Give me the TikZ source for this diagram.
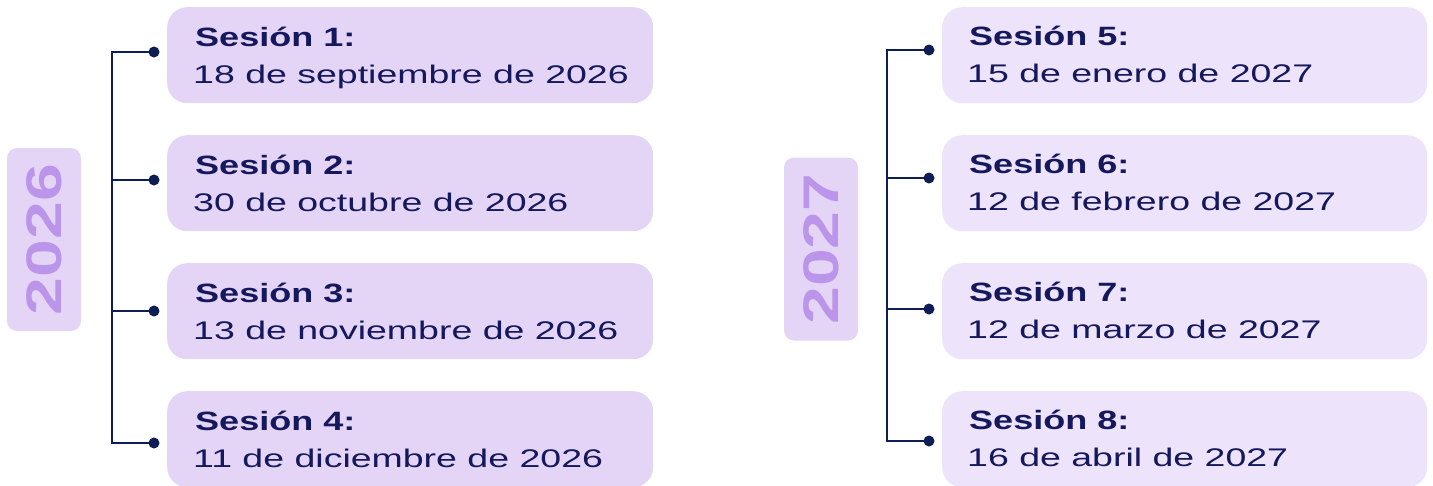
\documentclass[tikz,border=0pt]{standalone}
\usepackage{fontspec}
\setmainfont[FakeStretch=1.36]{Liberation Sans}
\newfontfamily\datefont[FakeStretch=1.47]{Liberation Sans}
\definecolor{boxL}{HTML}{E4D5F6}
\definecolor{boxR}{HTML}{EDE3FA}
\definecolor{yearbg}{HTML}{E4D5F6}
\definecolor{yeartxt}{HTML}{BA95EA}
\definecolor{navy}{HTML}{0E1E55}
\definecolor{ink}{HTML}{15185C}
\tikzset{
  sbox/.style={draw=none, rounded corners=20pt, minimum height=96pt, anchor=north west, inner sep=0pt},
  ybox/.style={fill=yearbg, draw=none, rounded corners=10pt, minimum width=74pt, minimum height=183pt, inner sep=0pt},
  ytext/.style={rotate=90, text=yeartxt, font=\fontsize{50}{50}\selectfont\bfseries, inner sep=0pt},
  title/.style={anchor=base west, inner sep=0pt, text=ink, font=\fontsize{26.5}{30}\selectfont\bfseries},
  date/.style={anchor=base west, inner sep=0pt, text=ink, font=\datefont\fontsize{25.5}{30}\selectfont},
  conn/.style={draw=navy, line width=2.8pt},
  dot/.style={circle, fill=navy, minimum size=11pt, inner sep=0pt}
}
\begin{document}
\begin{tikzpicture}[x=1pt,y=-1pt]
\useasboundingbox (0,0) rectangle (1433,485);
\clip (0,0) rectangle (1433,485);
% year boxes
\node[ybox] (yL) at (44,239.5) {};
\node[ytext] (yLt) at (yL.center) {2026};
\node[ybox] (yR) at (821,249) {};
\node[ytext] (yRt) at (yR.center) {2027};
% left column
\foreach \i/\t/\d [count=\k] in {7/1/18 de septiembre de 2026, 135/2/30 de octubre de 2026, 263/3/13 de noviembre de 2026, 391/4/11 de diciembre de 2026}{
  \node[sbox, fill=boxL, minimum width=486pt] (bL\k) at (167,\i) {};
  \node[title] (tiL\k) at ([shift={(28pt,-39pt)}]bL\k.north west) {Sesión \t:};
  \node[date] (daL\k) at ([shift={(26pt,-76pt)}]bL\k.north west) {\d};
}
\foreach \i/\t/\d [count=\k] in {7/5/15 de enero de 2027, 135/6/12 de febrero de 2027, 263/7/12 de marzo de 2027, 391/8/16 de abril de 2027}{
  \node[sbox, fill=boxR, minimum width=485pt] (bR\k) at (942,\i) {};
  \node[title] (tiR\k) at ([shift={(27pt,-38pt)}]bR\k.north west) {Sesión \t:};
  \node[date] (daR\k) at ([shift={(25pt,-75pt)}]bR\k.north west) {\d};
}
% left connectors
\node[dot] (dL1) at (154,52) {};
\node[dot] (dL2) at (154,180) {};
\node[dot] (dL3) at (154,311) {};
\node[dot] (dL4) at (154,443) {};
\coordinate (tL1) at (112,52);
\coordinate (tL2) at (112,180);
\coordinate (tL3) at (112,311);
\coordinate (tL4) at (112,443);
\draw[conn] (dL1.center) -- (tL1) -- (tL4) -- (dL4.center);
\draw[conn] (tL2) -- (dL2.center);
\draw[conn] (tL3) -- (dL3.center);
% right connectors
\node[dot] (dR1) at (929,50) {};
\node[dot] (dR2) at (929,178) {};
\node[dot] (dR3) at (929,309) {};
\node[dot] (dR4) at (929,441) {};
\coordinate (tR1) at (887,50);
\coordinate (tR2) at (887,178);
\coordinate (tR3) at (887,309);
\coordinate (tR4) at (887,441);
\draw[conn] (dR1.center) -- (tR1) -- (tR4) -- (dR4.center);
\draw[conn] (tR2) -- (dR2.center);
\draw[conn] (tR3) -- (dR3.center);
\end{tikzpicture}
\end{document}
